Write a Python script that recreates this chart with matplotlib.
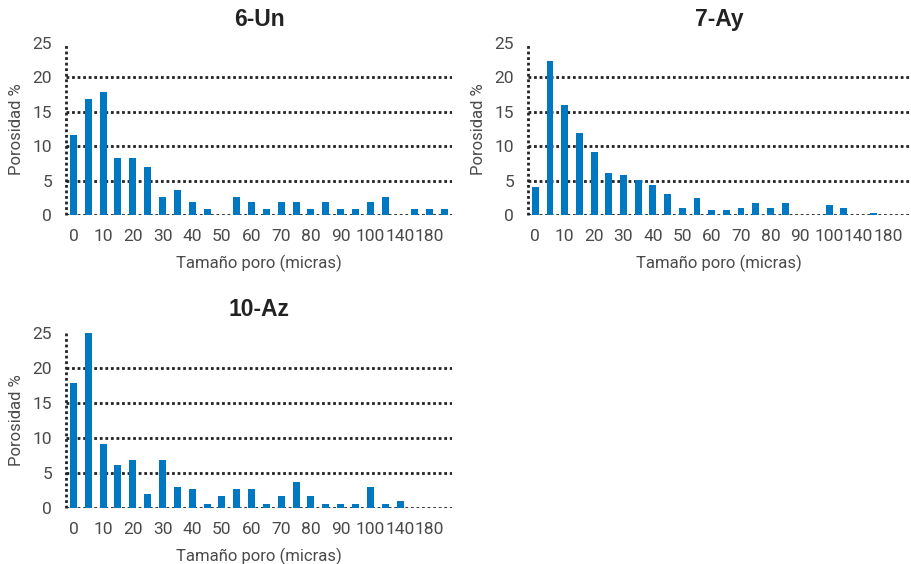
import matplotlib
matplotlib.use("Agg")
import matplotlib.pyplot as plt

plt.rcParams['font.family'] = ['Roboto', 'DejaVu Sans']

# pore size classes (micras)
categories = [str(v) for v in range(0, 101, 5)] + ["120", "140", "160", "180", "200"]

# porosity % per class
un6 = [11.6, 16.9, 17.9, 8.2, 8.2, 7.0, 2.6, 3.6, 1.9, 0.9, 0, 2.6, 1.9, 0.9, 1.9,
       1.9, 0.9, 1.9, 0.9, 0.9, 1.9, 2.6, 0, 0.9, 0.9, 0.9]
ay7 = [4.1, 22.4, 16.0, 11.9, 9.2, 6.1, 5.8, 5.1, 4.3, 3.1, 1.0, 2.4, 0.7, 0.7, 1.0,
       1.7, 1.0, 1.7, 0, 0, 1.4, 1.0, 0, 0.3, 0, 0]
az10 = [17.8, 25.0, 9.2, 6.2, 6.9, 2.0, 6.9, 3.0, 2.7, 0.6, 1.7, 2.7, 2.7, 0.6, 1.7,
        3.7, 1.7, 0.6, 0.6, 0.6, 3.0, 0.6, 1.0, 0, 0, 0]

titles = ["6-Un", "7-Ay", "10-Az"]
series = [un6, ay7, az10]

W, H = 912, 564
# axes boxes in pixels: left, top, right, bottom
boxes = [(66, 42.7, 452, 215), (528, 42.7, 910, 215), (66, 333, 452, 508)]

bar_color = "#0078C1"
text_color = "#4a4a4a"
dot_color = "#222222"

fig = plt.figure(figsize=(W / 100, H / 100), dpi=100)

for title, vals, (l, t, r, b) in zip(titles, series, boxes):
    ax = fig.add_axes([l / W, 1 - b / H, (r - l) / W, (b - t) / H])
    x = list(range(len(categories)))
    ax.bar(x, vals, width=0.47, color=bar_color, zorder=3)
    for y in [0, 5, 10, 15, 20]:
        ax.axhline(y, color=dot_color, linewidth=2, dashes=(1, 1), zorder=2)
    ax.axvline(-0.5, color=dot_color, linewidth=2, dashes=(1, 1), zorder=2, clip_on=False)
    ax.set_xlim(-0.5, len(categories) - 0.5)
    ax.set_ylim(0, 25)
    ax.set_yticks([0, 5, 10, 15, 20, 25])
    ax.set_xticks(x[::2])
    ax.set_xticklabels(categories[::2])
    ax.tick_params(length=0, labelsize=12.5, labelcolor=text_color, pad=10)
    for s in ax.spines.values():
        s.set_visible(False)
    ax.set_title(title, fontsize=16.5, fontweight="bold", color="#222222", pad=12,
                 family=['Liberation Sans', 'DejaVu Sans'])
    ax.set_xlabel("Tamaño poro (micras)", fontsize=12, color=text_color, labelpad=8)
    ax.set_ylabel("Porosidad %", fontsize=12, color=text_color, labelpad=6)

fig.savefig("out.png", dpi=100)
plt.close(fig)
